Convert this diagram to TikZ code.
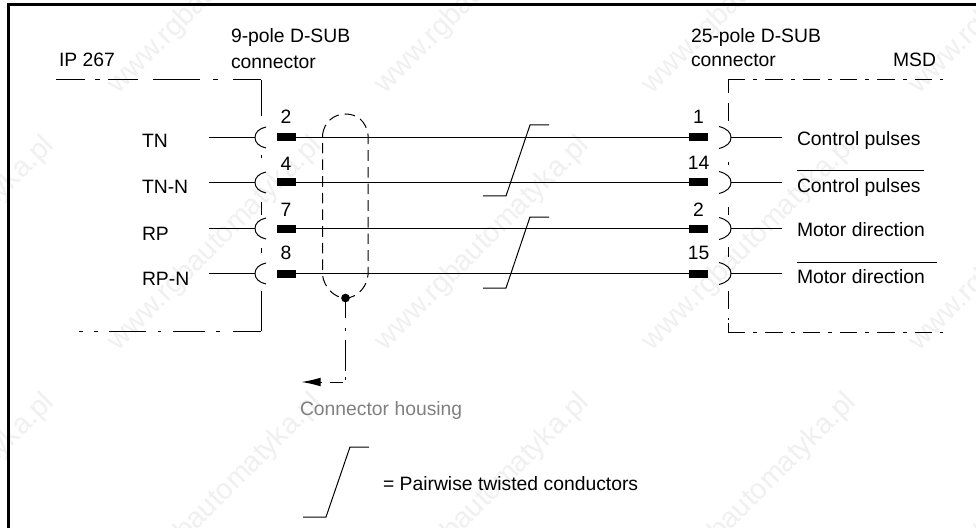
\documentclass[tikz,border=0pt]{standalone}
\usepackage{fontspec}
\setmainfont{Liberation Sans}
\usetikzlibrary{arrows.meta}
\tikzset{
  ln/.style={line width=0.75pt,black},
  frameln/.style={line width=2.25pt,black},
  txt/.style={inner sep=0pt,outer sep=0pt,anchor=base west,font=\fontsize{14.5}{17}\selectfont},
  txtc/.style={txt,anchor=base},
  pinbox/.style={fill=black,draw=none,minimum width=14.25pt,minimum height=6pt,inner sep=0pt,outer sep=0pt},
  tipnode/.style={circle,fill=black,minimum size=6.5pt,inner sep=0pt,outer sep=0pt},
  wmark/.style={inner sep=0pt,anchor=base east,rotate=45,text=black!6,font=\fontsize{21.5}{24}\selectfont},
  shield/.style={ln,dash pattern=on 8pt off 4.5pt},
  dashdot/.style={ln,dash pattern=on 13pt off 6pt on 3pt off 6pt},
}
\begin{document}
\begin{tikzpicture}[x=0.75pt,y=-0.75pt]
\useasboundingbox (0,0) rectangle (976,528);
\clip (0,0) rectangle (976,528);
\fill[white] (0,0) rectangle (976,528);
% watermark
\foreach \ex in {55,323,590,857,1124}
  \foreach \ey in {-110,147,404}
    \node[wmark] (wm\ex\ey) at (\ex,\ey) {www.rgbautomatyka.pl};
% frame
\draw[frameln] (8.5,528) -- (8.5,5) -- (976,5);
% texts
\node[txt] (ip) at (59,67) {IP 267};
\node[txt] (sa) at (231,43) {9-pole D-SUB};
\node[txt] (sb) at (231,69) {connector};
\node[txt] (ra) at (691,43) {25-pole D-SUB};
\node[txt] (rb) at (691,67) {connector};
\node[txt] (msd) at (893,67) {MSD};
\node[txt] (l1) at (142,148) {TN};
\node[txt] (l2) at (142,194) {TN-N};
\node[txt] (l3) at (142,240) {RP};
\node[txt] (l4) at (142,286) {RP-N};
\node[txt] (r1) at (797,146) {Control pulses};
\node[txt] (r2) at (797,192) {Control pulses};
\node[txt] (r3) at (797,237) {Motor direction};
\node[txt] (r4) at (797,283) {Motor direction};
\node[txt,text=black!50] (ch) at (300,415) {Connector housing};
\node[txt] (tw) at (383,490) {= Pairwise twisted conductors};
\draw[ln] (797,171) -- (924,171);
\draw[ln] (797,262) -- (937,262);
% pins and wires
\foreach \i/\y/\la/\lb/\na/\nb in {1/137.5/2/1/124/124,2/182.5/4/14/171/170,3/228.5/7/2/216/216,4/273.5/8/15/259/259}{
  \node[pinbox] (pinL\i) at (286.5,\y) {};
  \node[pinbox] (pinR\i) at (698.5,\y) {};
  \node[txtc] (numL\i) at (286,\na) {\la};
  \node[txtc] (numR\i) at (698.5,\nb) {\lb};
  \coordinate (wireL\i) at (209,\y);
  \coordinate (sockL\i) at (255,\y);
  \coordinate (wireR\i) at (782,\y);
  \coordinate (sockR\i) at (731,\y);
  \draw[ln] (pinL\i) -- (pinR\i);
  \draw[ln] (wireL\i) -- (sockL\i);
  \draw[ln] (sockR\i) -- (wireR\i);
  \draw[ln] (266,\y-10.5) .. controls (259,\y-9) and (255,\y-5) .. (sockL\i) .. controls (255,\y+5) and (259,\y+9) .. (266,\y+10.5);
  \draw[ln] (719,\y-11) .. controls (727,\y-9) and (731,\y-5) .. (sockR\i) .. controls (731,\y+5) and (727,\y+9) .. (719,\y+11);
}
% left enclosure
\draw[ln,dash pattern=on 21.75pt off 7.5pt on 3.75pt off 6pt on 22.5pt off 11.25pt on 35.25pt off 9.75pt on 3.75pt off 11.25pt on 21pt] (56,80) -- (261,80);
\draw[ln] (261,80) -- (261,116);
\draw[ln] (261,155) -- (261,158);
\draw[ln] (261,202) -- (261,215);
\draw[ln] (261,248) -- (261,253);
\draw[ln] (261,291) -- (261,331);
\draw[ln,dash pattern=on 21pt off 9.75pt on 3pt off 8.25pt on 24pt off 9pt on 2.25pt off 9pt on 27.75pt off 8.25pt on 3pt off 8.25pt on 3pt] (261,331) -- (59,331);
% right enclosure
\draw[dashdot] (728,80) -- (943,80);
\draw[ln] (728,80) -- (728,93);
\draw[ln] (728,103) -- (728,121);
\draw[ln] (728,162) -- (728,165);
\draw[ln] (728,207) -- (728,215);
\draw[ln] (728,247) -- (728,257);
\draw[ln] (728,291) -- (728,309);
\draw[ln] (728,318) -- (728,320);
\draw[ln] (728,323) -- (728,332);
\draw[dashdot] (728,332) -- (943,332);
% shield
\node[tipnode] (gnd) at (345.5,298) {};
\draw[shield] (322.5,135) .. controls (324,122) and (334,114) .. (345.5,114) .. controls (356,114) and (366,120) .. (368,135) -- (368,275) .. controls (367,287) and (357,298) .. (gnd.center) .. controls (334,298) and (324,287) .. (322.5,275) -- cycle;
% housing connection
\coordinate (hcorner) at (345.5,382);
\coordinate (htip) at (301.5,382);
\draw[ln,dash pattern=on 12pt off 7.5pt on 2.25pt off 6.75pt on 23.25pt off 4.5pt on 2.25pt off 3pt on 10pt off 6pt on 2.25pt off 6pt on 30pt,-{Latex[length=14.25pt,width=6.5pt]}] (gnd) -- (hcorner) -- (htip);
% twisted-pair marks
\draw[ln] (483,196) -- (506,196) -- (530,125) -- (549,125);
\draw[ln] (483,288) -- (506,288) -- (530,217) -- (549,217);
\draw[ln] (303,517) -- (326,517) -- (350,447) -- (369,447);
\end{tikzpicture}
\end{document}
